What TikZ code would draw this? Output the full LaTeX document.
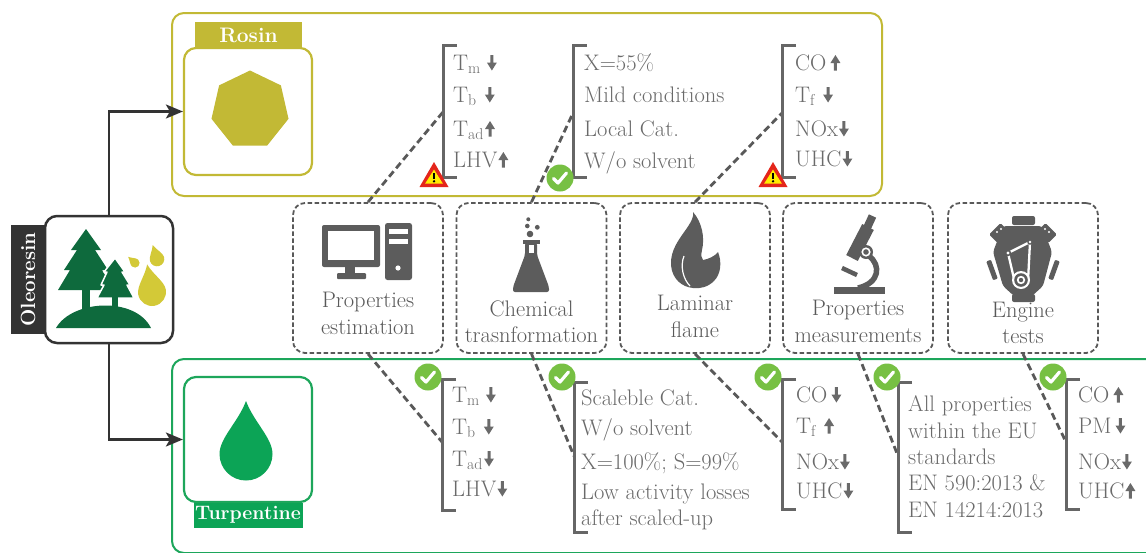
\documentclass[tikz,border=0pt]{standalone}
\usetikzlibrary{arrows.meta}

\definecolor{rosinc}{HTML}{C2B935}
\definecolor{turpc}{HTML}{1DA65B}
\definecolor{turpfill}{HTML}{0CA456}
\definecolor{treec}{HTML}{0E6A3D}
\definecolor{dropc}{HTML}{D3C937}
\definecolor{darkc}{HTML}{333333}
\definecolor{iconc}{HTML}{5C5C5C}
\definecolor{dashc}{HTML}{595959}
\definecolor{txtc}{HTML}{6A6A6A}
\definecolor{brc}{HTML}{666666}
\definecolor{okc}{HTML}{77C043}
\definecolor{warnr}{HTML}{E4251B}
\definecolor{warny}{HTML}{FFEC00}

% small bold arrows used inside the property lists
\newcommand\arrdn{\tikz[baseline=0pt,x=1pt,y=1pt]\fill[txtc](-1.5,15)--(1.5,15)--(1.5,7.5)--(5,7.5)--(0,-0.5)--(-5,7.5)--(-1.5,7.5)--cycle;}
\newcommand\arrup{\tikz[baseline=0pt,x=1pt,y=1pt]\fill[txtc](-1.5,-0.5)--(1.5,-0.5)--(1.5,7)--(5,7)--(0,15)--(-5,7)--(-1.5,7)--cycle;}

% one list of result lines: name, x, {baseline/text, ...}
\newcommand\listrows[3]{\foreach \yy/\rowtext [count=\rowidx] in {#3} {\node[listtxt] (#1-\rowidx) at (#2,\yy) {\rowtext};}}

\tikzset{
  panel/.style={line width=2pt, rounded corners=12pt, inner sep=0pt},
  feedbox/.style={line width=2.2pt, rounded corners=12pt, fill=white, inner sep=0pt},
  tag/.style={inner sep=0pt, text=white, font=\fontsize{21}{24}\selectfont\bfseries},
  listtxt/.style={font=\fontsize{22.5}{26}\selectfont, text=txtc, anchor=base west, inner sep=0pt},
  boxlbl/.style={font=\fontsize{22.5}{26}\selectfont, text=dashc, anchor=base, inner sep=0pt},
  methodbox/.style={draw=dashc, dash pattern=on 4.5pt off 2.5pt, line width=1.8pt, rounded corners=12pt,
    minimum width=150pt, minimum height=150pt, inner sep=0pt},
  bracketline/.style={draw=brc, line width=3pt},
  linkline/.style={draw=dashc, line width=2.8pt, dash pattern=on 7pt off 4pt},
  flow/.style={draw=darkc, line width=2.5pt, -{Stealth[length=17pt,width=14pt,inset=4pt]}},
  icon/.style={fill=iconc},
  droplet/.pic={\path[pic actions] (0,-2) .. controls (0.3,-1.2) and (1,-0.6) .. (1,0)
      arc[start angle=0,end angle=180,radius=1] .. controls (-1,-0.6) and (-0.3,-1.2) .. (0,-2) -- cycle;},
  okmark/.pic={\fill[okc] (0,0) circle (13.5);
      \draw[white, line width=3.2pt, line cap=round, line join=round] (-6.5,0.5) -- (-2,5) -- (6.5,-5);},
  warnmark/.pic={\fill[warnr] (0,-14) -- (14.5,11) -- (-14.5,11) -- cycle;
      \fill[warny] (0,-6.5) -- (8.8,7.5) -- (-8.8,7.5) -- cycle;
      \fill[black] (-1.2,-3.5) rectangle (1.2,3);
      \fill[black] (0,5.3) circle (1.3);},
}

\begin{document}
\begin{tikzpicture}[x=1pt,y=-1pt]
\useasboundingbox (0,0) rectangle (1146,552);
\clip (0,0) rectangle (1146,552);

% ---------- panels ----------
\node[panel, draw=rosinc, minimum width=710pt, minimum height=183pt] (rosinpanel) at (527,104.5) {};
\node[panel, draw=turpc, minimum width=1010pt, minimum height=194pt] (turppanel) at (677,456) {};

% ---------- rosin ----------
\node[feedbox, draw=rosinc, minimum width=128pt, minimum height=127pt] (rosin) at (248,111.5) {};
\node[tag, fill=rosinc, minimum width=107pt, minimum height=26pt] (rosinlbl) at (248.5,35) {Rosin};
\fill[rosinc, shift={(250,110)}] (-90:39.5) \foreach \k in {1,...,6} { -- ({-90+\k*360/7}:39.5) } -- cycle;

% ---------- turpentine ----------
\node[feedbox, draw=turpc, minimum width=128pt, minimum height=125pt] (turp) at (248,439.5) {};
\node[tag, fill=turpfill, minimum width=109pt, minimum height=25pt, font=\fontsize{19.5}{22}\selectfont\bfseries] (turplbl) at (248,515) {Turpentine};
\pic[fill=turpfill, scale=26.5] at (246,454) {droplet};

% ---------- oleoresin ----------
\node[tag, fill=darkc, rotate=90, minimum width=109pt, minimum height=34pt, font=\fontsize{20.5}{24}\selectfont\bfseries] (olealbl) at (28,279.5) {Oleoresin};
\node[feedbox, draw=darkc, line width=2.5pt, minimum width=128pt, minimum height=127pt] (olea) at (109,279.5) {};
% trees on a hill
\fill[treec] (82,286) rectangle (90,312);
\fill[treec] (86,229) -- (101,250) -- (95,250) -- (108,270) -- (102,270) -- (114,290) -- (58,290)
  -- (70,270) -- (64,270) -- (77,250) -- (71,250) -- cycle;
\filldraw[treec, draw=white, line width=1.5pt, line join=round] (115,258) -- (125,272) -- (122,272) -- (130,285)
  -- (127,285) -- (134,298) -- (97,298) -- (104,285) -- (101,285) -- (107,272) -- (104,272) -- cycle;
\fill[treec] (112,297) rectangle (118,308);
\fill[treec] (56,328) .. controls (72,300) and (135,296) .. (151,328) -- cycle;
% resin drops
\pic[fill=dropc, scale=14, rotate=10] at (152,292) {droplet};
\pic[fill=dropc, scale=7.3, rotate=17] at (157,259) {droplet};
\pic[fill=dropc, scale=4.6, rotate=48] at (135,263) {droplet};

% ---------- flow arrows ----------
\draw[flow] (olea.north) |- (rosin.west);
\draw[flow] (olea.south) |- (turp.west);

% ---------- method boxes ----------
\node[methodbox] (pe) at (368,278) {};
\node[methodbox] (ct) at (531.5,278) {};
\node[methodbox] (lf) at (695,278) {};
\node[methodbox] (pm) at (858,278) {};
\node[methodbox] (et) at (1023,278) {};

\node[boxlbl] (pe-1) at (368,307) {Properties};
\node[boxlbl] (pe-2) at (368,334) {estimation};
\node[boxlbl] (ct-1) at (531.5,316) {Chemical};
\node[boxlbl] (ct-2) at (531.5,342) {trasnformation};
\node[boxlbl] (lf-1) at (695,310) {Laminar};
\node[boxlbl] (lf-2) at (695,337) {flame};
\node[boxlbl] (pm-1) at (858,315) {Properties};
\node[boxlbl] (pm-2) at (858,342) {measurements};
\node[boxlbl] (et-1) at (1023,317) {Engine};
\node[boxlbl] (et-2) at (1023,343) {tests};

% computer
\fill[icon, rounded corners=2pt] (322,225) rectangle (380,267);
\fill[white] (328,231) rectangle (374,260);
\fill[icon] (345,266) rectangle (355,274);
\fill[icon, rounded corners=1pt] (337,273) rectangle (366,279);
\fill[icon, rounded corners=2.5pt] (385,223) rectangle (412,280);
\fill[white] (389,229) rectangle (408,234);
\fill[white] (389,239) rectangle (408,244);
\fill[white] (398,268) circle (2.6);

% flask
\fill[icon] (528.3,219.3) circle (2);
\fill[icon] (527.3,226) circle (2.3);
\fill[icon] (537.3,227.3) circle (2.4);
\fill[icon] (530,234) circle (3.3);
\fill[icon] (522.5,240) rectangle (540,244);
\fill[icon, rounded corners=2pt] (525,243) -- (537,243) -- (537,255) -- (549,287) -- (549,292)
  -- (513,292) -- (513,287) -- (525,255) -- cycle;
\fill[white] (528.5,245) rectangle (533.5,253);

% flame
\fill[icon] (693,212) .. controls (702,222) and (705,238) .. (702,250)
  .. controls (701,255) and (701,258) .. (703,260)
  .. controls (709,259) and (715,256) .. (718,252)
  .. controls (722,262) and (721,274) .. (714,281)
  .. controls (708,287) and (700,289) .. (693,288)
  .. controls (682,287) and (672,279) .. (671,265)
  .. controls (670,250) and (680,238) .. (687,228)
  .. controls (691,222) and (694,217) .. (693,212) -- cycle;
\draw[white, line width=1.2pt] (684,256) .. controls (680,266) and (683,279) .. (690,286);

% microscope
\draw[iconc, line width=8pt] (872.5,216) -- (867,228);
\draw[iconc, line width=13pt] (868,227) -- (852,258);
\draw[iconc, line width=4.5pt] (842,268) -- (857,275);
\draw[iconc, line width=5.5pt] (869,256) .. controls (881,265) and (880,283) .. (858,288);
\fill[iconc] (866,252) circle (7);
\fill[white] (866,252) circle (4.6);
\fill[iconc] (866,252) circle (2.8);
\fill[icon] (834,287) rectangle (885,293.5);

% engine
\fill[icon, rounded corners=2pt] (1012,216) rectangle (1035,225);
\fill[icon, rounded corners=2pt] (1012,294) rectangle (1035,302);
\fill[icon, rounded corners=3pt] (1003,226) -- (1042,226) -- (1052,252) -- (1043,286) -- (1032,296)
  -- (1014,296) -- (1003,286) -- (993,252) -- cycle;
\fill[icon, rounded corners=1.5pt, rotate around={45:(999,233)}] (991,227) rectangle (1007,239);
\fill[icon, rounded corners=1.5pt, rotate around={-45:(1047,233)}] (1039,227) rectangle (1055,239);
\fill[white] (997,232) circle (1.2) (1001,229) circle (1.2);
\fill[white] (1049,232) circle (1.2) (1045,229) circle (1.2);
\fill[icon, rounded corners=1pt, rotate around={-70:(992,270)}] (982,267.5) rectangle (1002,272.5);
\fill[icon, rounded corners=1pt, rotate around={70:(1054,270)}] (1044,267.5) rectangle (1064,272.5);
\draw[white, line width=2.3pt, line join=round] (1008,253) -- (1030,242) -- (1028,281) -- (1015,283) -- cycle;
\fill[iconc] (1008,253) circle (3.2);
\fill[white] (1008,253) circle (1.6);
\fill[iconc] (1030,242) circle (2.8);
\fill[white] (1030,242) circle (1.3);
\fill[white] (1021,280) circle (9);
\fill[iconc] (1021,280) circle (6.8);
\fill[white] (1021,280) circle (4.2);
\fill[iconc] (1021,280) circle (2.2);

% ---------- links to the result lists ----------
\coordinate (t1) at (443,112);
\coordinate (t2) at (573,113);
\coordinate (t3) at (782,113);
\coordinate (b1) at (442,442);
\coordinate (b2) at (574,456);
\coordinate (b3) at (782,442);
\coordinate (b4) at (898,456);
\coordinate (b5) at (1066,442);
\draw[linkline] (pe.north) -- (t1);
\draw[linkline] (ct.north) -- (t2);
\draw[linkline] (lf.north) -- (t3);
\draw[linkline] (pe.south) -- (b1);
\draw[linkline] (ct.south) -- (b2);
\draw[linkline] (lf.south) -- (b3);
\draw[linkline] (pm.south) -- (b4);
\draw[linkline] (et.south) -- (b5);

% ---------- brackets ----------
\draw[bracketline] (457,45) -- (443,45) -- (443,177) -- (457,177);
\draw[bracketline] (587,45) -- (573,45) -- (573,177) -- (587,177);
\draw[bracketline] (796,45) -- (782,45) -- (782,177) -- (796,177);
\draw[bracketline] (456,379) -- (442,379) -- (442,510) -- (456,510);
\draw[bracketline] (588,382) -- (574,382) -- (574,532) -- (588,532);
\draw[bracketline] (796,379) -- (782,379) -- (782,509) -- (796,509);
\draw[bracketline] (912,382) -- (898,382) -- (898,532) -- (912,532);
\draw[bracketline] (1080,379) -- (1066,379) -- (1066,509) -- (1080,509);

% ---------- result lists ----------
\listrows{rpe}{453}{70/{T\textsubscript{m}\hspace{6pt}\arrdn}, 102/{T\textsubscript{b}\hspace{8pt}\arrdn}, 136/{T\textsubscript{ad}\hspace{1pt}\arrup}, 167/{LHV\hspace{1pt}\arrup}}
\listrows{rct}{584}{70/{X=55\%}, 102/{Mild conditions}, 136/{Local Cat.}, 168/{W/o solvent}}
\listrows{rlf}{795}{70/{CO\hspace{4pt}\arrup}, 102/{T\textsubscript{f}\hspace{8pt}\arrdn}, 136/{NOx\hspace{1pt}\arrdn}, 166/{UHC\hspace{1pt}\arrdn}}
\listrows{tpe}{452}{402/{T\textsubscript{m}\hspace{6pt}\arrdn}, 434/{T\textsubscript{b}\hspace{8pt}\arrdn}, 466/{T\textsubscript{ad}\hspace{1pt}\arrdn}, 496/{LHV\hspace{1pt}\arrdn}}
\listrows{tct}{581}{405/{Scaleble Cat.}, 435/{W/o solvent}, 469/{X=100\%; S=99\%}, 499/{Low activity losses}, 525/{after scaled-up}}
\listrows{tlf}{796}{402/{CO\hspace{4pt}\arrdn}, 433/{T\textsubscript{f}\hspace{8pt}\arrup}, 469/{NOx\hspace{1pt}\arrdn}, 498/{UHC\hspace{1pt}\arrdn}}
\listrows{tpm}{908}{411/{All properties}, 438/{within the EU}, 464/{standards}, 490/{EN 590:2013 \&}, 517/{EN 14214:2013}}
\listrows{tet}{1078}{402/{CO\hspace{4pt}\arrup}, 433/{PM\hspace{4pt}\arrdn}, 469/{NOx\hspace{1pt}\arrdn}, 498/{UHC\hspace{1pt}\arrup}}

% ---------- assessment marks ----------
\pic at (434,176) {warnmark};
\pic at (773,176) {warnmark};
\pic at (560,178) {okmark};
\pic at (428,377) {okmark};
\pic at (562,377) {okmark};
\pic at (768,377) {okmark};
\pic at (887,377) {okmark};
\pic at (1053,377) {okmark};
\end{tikzpicture}
\end{document}
